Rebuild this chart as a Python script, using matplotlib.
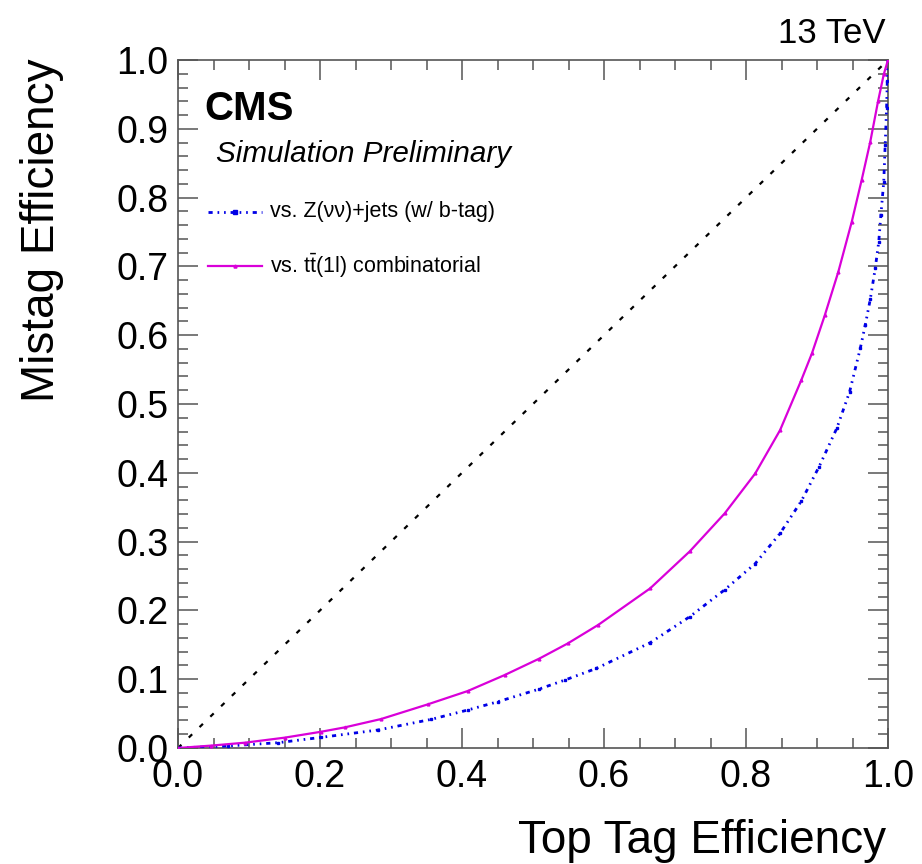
import matplotlib
matplotlib.use("Agg")
import matplotlib.pyplot as plt
from matplotlib.ticker import MultipleLocator, FormatStrFormatter

plt.rcParams['font.family'] = ['Liberation Sans', 'DejaVu Sans']
plt.rcParams['mathtext.fontset'] = 'custom'
plt.rcParams['mathtext.rm'] = 'Liberation Sans'
plt.rcParams['mathtext.it'] = 'Liberation Sans:italic'
plt.rcParams['lines.scale_dashes'] = False

# ---- data ----
ttbar_eff = [0, 0.047, 0.094, 0.150, 0.202, 0.235, 0.286, 0.352, 0.408, 0.460, 0.509,
             0.549, 0.592, 0.665, 0.721, 0.770, 0.813, 0.848, 0.878, 0.893, 0.911,
             0.930, 0.949, 0.963, 0.975, 0.986, 0.994, 1.0]
ttbar_mis = [0, 0.0035, 0.0077, 0.0150, 0.0237, 0.0300, 0.0421, 0.0635, 0.0828, 0.106, 0.130,
             0.152, 0.179, 0.232, 0.286, 0.341, 0.399, 0.462, 0.535, 0.574, 0.629,
             0.692, 0.765, 0.826, 0.881, 0.940, 0.979, 1.0]

znn_eff = [0, 0.070, 0.141, 0.202, 0.282, 0.357, 0.408, 0.451, 0.509, 0.545, 0.589,
           0.665, 0.721, 0.770, 0.813, 0.848, 0.878, 0.903, 0.928, 0.946, 0.961,
           0.968, 0.975, 0.982, 0.987, 0.990, 0.994, 0.996, 0.998, 0.999, 1.0]
znn_mis = [0, 0.0029, 0.0077, 0.0155, 0.0262, 0.0417, 0.0552, 0.0674, 0.0858, 0.0988, 0.1156,
           0.153, 0.191, 0.230, 0.268, 0.312, 0.359, 0.409, 0.465, 0.518, 0.581,
           0.615, 0.652, 0.697, 0.736, 0.775, 0.823, 0.876, 0.930, 0.969, 1.0]

diag = [0.0, 1.0]

label_znn = "vs. Z(\u03bd\u03bd)+jets (w/ b-tag)"
label_tt = r"vs. $\mathrm{t\bar{t}}$(1l) combinatorial"

W, H = 922, 864
fig = plt.figure(figsize=(W / 100, H / 100), dpi=100)

def fx(px):
    return px / W

def fy(py):
    return 1 - py / H

ax = fig.add_axes([fx(178), fy(748), fx(888) - fx(178), fy(60) - fy(748)])

blue = '#0000e6'
mag = '#d900d9'
blue_ls = (0, (3, 3.5, 1.2, 3.5, 1.2, 3.5))

ax.plot(diag, diag, color='black', lw=1.6, linestyle=(0, (3.4, 7.4)), zorder=2)
ax.plot(znn_eff, znn_mis, color=blue, lw=2.0, linestyle=blue_ls,
        marker='s', ms=1.8, mec=blue, mfc=blue, zorder=3)
ax.plot(ttbar_eff, ttbar_mis, color=mag, lw=1.6, marker='^', ms=2.0, mec=mag, mfc=mag, zorder=4)

ax.set_xlim(0, 1)
ax.set_ylim(0, 1)

ax.xaxis.set_major_locator(MultipleLocator(0.2))
ax.xaxis.set_minor_locator(MultipleLocator(0.05))
ax.yaxis.set_major_locator(MultipleLocator(0.1))
ax.yaxis.set_minor_locator(MultipleLocator(0.02))
ax.xaxis.set_major_formatter(FormatStrFormatter('%.1f'))
ax.yaxis.set_major_formatter(FormatStrFormatter('%.1f'))

frame_col = '#555555'
for s in ax.spines.values():
    s.set_color(frame_col)
    s.set_linewidth(1.2)

ax.tick_params(which='both', direction='in', top=True, right=True, color=frame_col, width=1.1)
ax.tick_params(which='major', length=14.5, labelsize=27)
ax.tick_params(which='minor', length=7.5)
ax.tick_params(axis='x', which='major', pad=8)
ax.tick_params(axis='y', which='major', pad=7)

# Axis titles
fig.text(fx(886), fy(853), "Top Tag Efficiency", fontsize=33, ha='right', va='baseline')
fig.text(fx(42), fy(58), "Mistag Efficiency", fontsize=33, rotation=90, ha='center', va='top')

# Labels
fig.text(fx(885), fy(43), "13 TeV", fontsize=25, ha='right', va='baseline')
fig.text(fx(204), fy(120), "CMS", fontsize=29, fontweight='bold', ha='left', va='baseline')
fig.text(fx(216), fy(162), "Simulation Preliminary", fontsize=21.3, fontstyle='italic',
         ha='left', va='baseline')

# Legend (manual, ROOT-like)
leg_x0, leg_x1 = 208, 262
for ypix, col, ls, lw, mk, lab in [
        (212, blue, blue_ls, 2.0, 's', label_znn),
        (266, mag, '-', 1.6, '^', label_tt)]:
    fig.add_artist(plt.Line2D([fx(leg_x0), fx(leg_x1)], [fy(ypix), fy(ypix)], color=col,
                              lw=lw, linestyle=ls, transform=fig.transFigure))
    fig.add_artist(plt.Line2D([fx((leg_x0 + leg_x1) / 2)], [fy(ypix)], color=col, marker=mk,
                              ms=2.2, transform=fig.transFigure))
    fig.text(fx(270), fy(ypix), lab, fontsize=15.5, ha='left', va='center')

fig.savefig("out.png", dpi=100)
